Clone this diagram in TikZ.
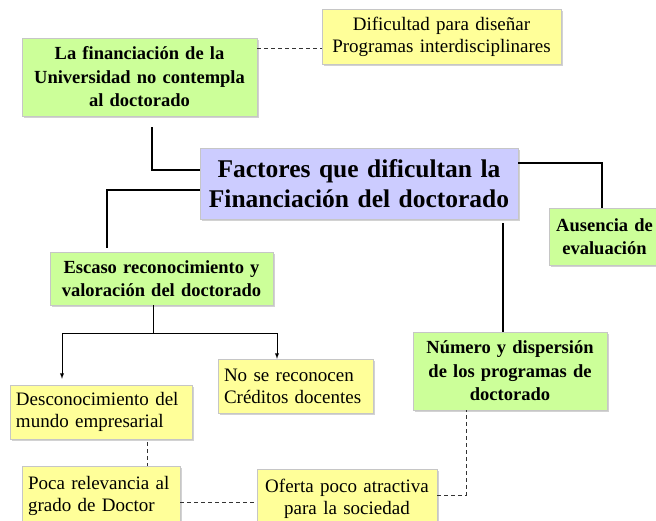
\documentclass[tikz,border=0pt]{standalone}
\usepackage{fontspec}
\setmainfont{Liberation Serif}
\usepackage{xcolor}
\usepackage{tikz}
\usetikzlibrary{calc}
\usetikzlibrary{arrows}
\usetikzlibrary{shadows}

\definecolor{greenfill}{HTML}{CCFF99}
\definecolor{yellowfill}{HTML}{FFFF99}
\definecolor{mainfill}{HTML}{CCCCFF}

\begin{document}
\begin{tikzpicture}[
    x = 1pt,
    y = -1pt,
    box/.style = {
      rectangle,
      draw=gray!45,
      inner sep=0pt,
      align=center,
      drop shadow={shadow xshift=1.5pt, shadow yshift=-1.5pt, fill=gray!70}
    },
    greenf/.style = {
      box,
      fill=greenfill,
      font=\fontsize{18.5}{23.5}\selectfont\bfseries
    },
    yellowf/.style = {
      box,
      fill=yellowfill,
      font=\fontsize{19}{22}\selectfont
    },
    mainf/.style = {
      box,
      fill=mainfill,
      font=\fontsize{25.5}{30}\selectfont\bfseries
    },
    link/.style = {
      draw=black,
      line width=1.6pt
    },
    thinlink/.style = {
      draw=black,
      line width=0.9pt
    },
    dashlink/.style = {
      draw=black!80,
      line width=0.7pt,
      dash pattern=on 4pt off 3pt
    }
  ]
    \useasboundingbox (0,0) rectangle (656,520);
    % main problem
    \node[mainf, minimum width=318, minimum height=71, text width=318] (main) at (359,183.5)
      {Factores que dificultan la\\Financiaci\'on del doctorado};
    % causes
    \node[greenf, minimum width=235, minimum height=78, text width=235] (fin) at (139.5,77)
      {La financiaci\'on de la\\Universidad no contempla\\al doctorado};
    \node[yellowf, minimum width=239, minimum height=55, text width=239] (dif) at (441.5,36.5)
      {Dificultad para dise\~nar\\Programas interdisciplinares};
    \node[greenf, minimum width=111, minimum height=57, text width=111] (aus) at (604.5,236.5)
      {Ausencia de\\evaluaci\'on};
    \node[greenf, minimum width=223, minimum height=53, text width=223] (esc) at (161.5,278.5)
      {Escaso reconocimiento y\\valoraci\'on del doctorado};
    \node[greenf, minimum width=194, minimum height=78, text width=194] (num) at (510,371)
      {N\'umero y dispersi\'on\\de los programas de\\doctorado};
    % consequences
    \node[yellowf, align=left, minimum width=182, minimum height=54, text width=170] (desc) at (101,412)
      {Desconocimiento del\\mundo empresarial};
    \node[yellowf, align=left, minimum width=155, minimum height=54, text width=143] (nose) at (295.5,386)
      {No se reconocen\\Cr\'editos docentes};
    \node[yellowf, align=left, minimum width=158, minimum height=60, text width=146] (poca) at (101,496)
      {Poca relevancia al\\grado de Doctor};
    \node[yellowf, minimum width=180, minimum height=60, text width=180] (ofer) at (347,499)
      {Oferta poco atractiva\\para la sociedad};

    \coordinate (split) at (153,333);
    \coordinate (bend) at (466,495);

    \draw[link] ($(fin.south)+(12.5,11)$) |- ($(main.west)+(0,-13.5)$);
    \draw[link] ($(main.west)+(0,6.5)$) -| ($(esc.north)+(-54.5,-4)$);
    \draw[link] ($(main.east)+(0,-20.5)$) -| ($(aus.north)+(-2.5,0)$);
    \draw[link] ($(main.south)+(144,4)$) -- (num.north -| 503,0);

    \draw[thinlink] (esc.south -| split) -- (split);
    \draw[thinlink,-latex] (split) -| ($(desc.north)+(-39,-6)$);
    \draw[thinlink,-latex] (split) -| ($(nose.north)+(-18.5,0)$);

    \draw[dashlink] ($(fin.east)+(0,-29)$) -- ($(dif.west)+(0,11.5)$);
    \draw[dashlink] ($(desc.south)+(46,3)$) -- ($(poca.north)+(46,0)$);
    \draw[dashlink] ($(poca.east)+(0,6)$) -- ($(ofer.west)+(0,3)$);
    \draw[dashlink] (ofer.east |- bend) -- (bend) -- (num.south -| bend);
  \end{tikzpicture}
\end{document}
